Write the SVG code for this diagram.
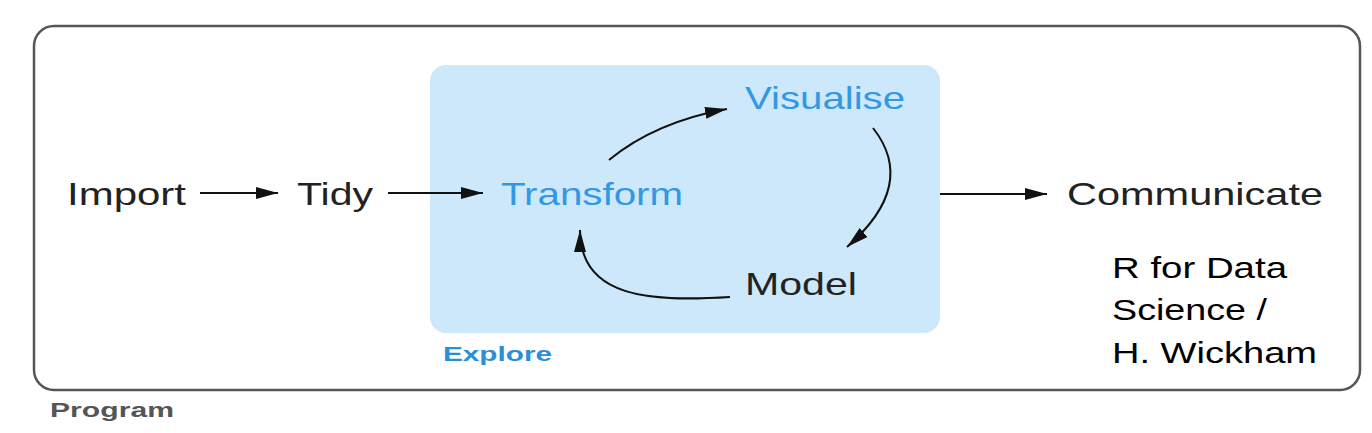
<svg xmlns="http://www.w3.org/2000/svg" width="1372" height="433" viewBox="0 0 1372 433">
<style>
.t{font-family:"Liberation Sans",Arial,sans-serif;font-size:32px;fill:#222}
.b{fill:#3298e6}
.lbl{font-family:"Liberation Sans",Arial,sans-serif;font-weight:bold;font-size:21px}
.c{fill:none;stroke:#111;stroke-width:2}
.r{font-family:"Liberation Sans",Arial,sans-serif;font-size:30px;fill:#000}
</style>
<defs>
<marker id="ah" markerUnits="userSpaceOnUse" markerWidth="24" markerHeight="14" refX="22" refY="6" orient="auto" viewBox="0 0 24 12">
<path d="M0,0 L22,6 L0,12 Z" fill="#111"/>
</marker>
</defs>
<g id="program">
<rect x="34" y="26" width="1326" height="364" rx="20" fill="#fff" stroke="#555" stroke-width="2.5"/>
<text class="lbl" x="50" y="417" fill="#555" textLength="124" lengthAdjust="spacingAndGlyphs">Program</text>
</g>
<g id="explore">
<rect x="430" y="65" width="510" height="268" rx="16" fill="#cde8fb"/>
<text class="lbl" x="443" y="361" fill="#2b8fd8" textLength="109" lengthAdjust="spacingAndGlyphs">Explore</text>
</g>
<g id="import"><text class="t" x="67" y="205" textLength="119" lengthAdjust="spacingAndGlyphs">Import</text></g>
<g id="tidy"><text class="t" x="297" y="205" textLength="76" lengthAdjust="spacingAndGlyphs">Tidy</text></g>
<g id="transform"><text class="t b" x="501" y="205" textLength="182" lengthAdjust="spacingAndGlyphs">Transform</text></g>
<g id="visualise"><text class="t b" x="745" y="109" textLength="160" lengthAdjust="spacingAndGlyphs">Visualise</text></g>
<g id="model"><text class="t" x="745" y="295" textLength="112" lengthAdjust="spacingAndGlyphs">Model</text></g>
<g id="communicate"><text class="t" x="1067" y="205" textLength="256" lengthAdjust="spacingAndGlyphs">Communicate</text></g>
<g id="credit">
<text class="r" x="1112" y="278" textLength="175" lengthAdjust="spacingAndGlyphs">R for Data</text>
<text class="r" x="1112" y="320" textLength="155" lengthAdjust="spacingAndGlyphs">Science /</text>
<text class="r" x="1112" y="363" textLength="205" lengthAdjust="spacingAndGlyphs">H. Wickham</text>
</g>
<g id="connectors">
<path class="c" d="M200,193 L278,193" marker-end="url(#ah)"/>
<path class="c" d="M388,193 L483,193" marker-end="url(#ah)"/>
<path class="c" d="M940,194 L1047,194" marker-end="url(#ah)"/>
<path class="c" d="M609,160 Q655,122 727,109" marker-end="url(#ah)"/>
<path class="c" d="M873,128 Q918,185 847,247" marker-end="url(#ah)"/>
<path class="c" d="M730,297 C650,302 580,298 580,230" marker-end="url(#ah)"/>
</g>
</svg>
